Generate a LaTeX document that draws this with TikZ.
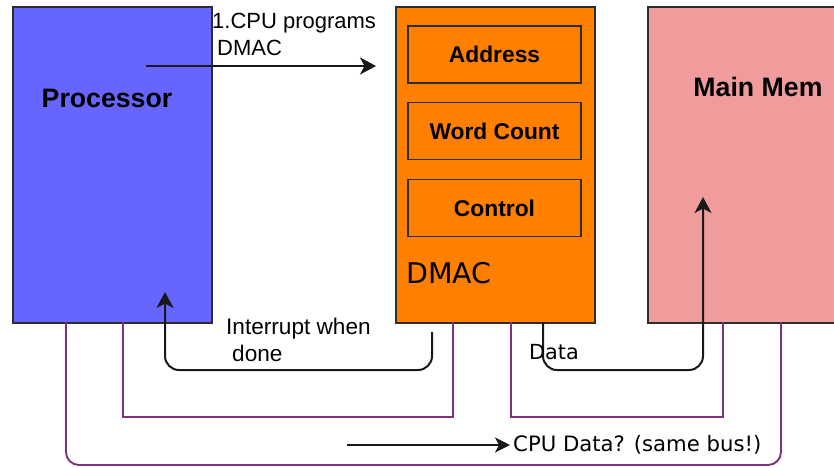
\documentclass[tikz,border=0pt]{standalone}
\usepackage{fontspec}
\setmainfont{Liberation Sans}
\newfontfamily\dv{DejaVu Sans}
\usetikzlibrary{arrows.meta}
\definecolor{procblue}{RGB}{102,102,255}
\definecolor{dmacorange}{RGB}{255,128,0}
\definecolor{mempink}{RGB}{240,156,156}
\definecolor{buspurple}{RGB}{128,48,128}
\definecolor{edgegray}{RGB}{45,45,45}
\tikzset{
  unit/.style={draw=edgegray, line width=1.8pt, inner sep=0pt, anchor=north west},
  reg/.style={draw=edgegray, line width=1.8pt, inner sep=0pt, minimum width=173pt, minimum height=57pt, font=\fontsize{22.8}{27}\selectfont\bfseries},
  conn/.style={line width=2pt, draw=black!90, -{Stealth[length=16pt,width=17pt,inset=4.5pt]}},
  bus/.style={line width=1.9pt, draw=buspurple},
  lbl/.style={inner sep=0pt, anchor=base west}
}
\begin{document}
\begin{tikzpicture}[x=1pt,y=-1pt]
\useasboundingbox (0,0) rectangle (834,467);
\clip (0,0) rectangle (834,467);
\fill[white] (0,0) rectangle (834,467);
% units
\node[unit, fill=procblue, minimum width=199pt, minimum height=316pt] (proc) at (12,6) {};
\node[unit, fill=dmacorange, minimum width=199pt, minimum height=316pt] (dmac) at (395,6) {};
\node[unit, fill=mempink, minimum width=210pt, minimum height=316pt] (mem) at (647,6) {};
\node[font=\fontsize{26.7}{31}\selectfont\bfseries] (proctxt) at (107,98) {Processor};
\node[font=\fontsize{26.7}{31}\selectfont\bfseries] (memtxt) at (758,87) {Main Mem};
% registers
\node[reg] (addr) at (494.5,54.5) {Address};
\node[reg] (wc) at (494.5,131) {Word Count};
\node[reg] (ctrl) at (494.5,208) {Control};
\node[lbl, font=\dv\fontsize{28.5}{33}\selectfont] (dmactxt) at (406,283) {DMAC};
% coordinates
\coordinate (p1) at (146,66);
\coordinate (p2) at (376,66);
\coordinate (i1) at (432,332);
\coordinate (i2) at (165,292);
\coordinate (d1) at (543,322);
\coordinate (d2) at (703,197);
\coordinate (b1) at (123,322);
\coordinate (b2) at (453,322);
\coordinate (b3) at (511,322);
\coordinate (b4) at (723,322);
\coordinate (o1) at (66,322);
\coordinate (o2) at (781,322);
\coordinate (c1) at (347,445);
\coordinate (c2) at (510,445);
% buses
\draw[bus] (b1) -- (123,417) -- (453,417) -- (b2);
\draw[bus] (b3) -- (511,417) -- (723,417) -- (b4);
\draw[bus, rounded corners=13pt] (o1) -- (66,465) -- (781,465) -- (o2);
% connectors
\draw[conn] (p1) -- (p2);
\draw[conn, rounded corners=14pt] (i1) -- (432,370) -- (165,370) -- (i2);
\draw[conn, rounded corners=14pt] (d1) -- (543,370) -- (703,370) -- (d2);
\draw[conn, line width=1.7pt, -{Stealth[length=15pt,width=15pt,inset=4pt]}] (c1) -- (c2);
% labels
\node[lbl, font=\fontsize{22}{26}\selectfont] (t1) at (212,28) {1.CPU programs};
\node[lbl, font=\fontsize{22}{26}\selectfont] (t2) at (217,55) {DMAC};
\node[lbl, font=\fontsize{22.6}{26}\selectfont] (t3) at (226,334) {Interrupt when};
\node[lbl, font=\fontsize{22.6}{26}\selectfont] (t4) at (232,361) {done};
\node[lbl, font=\dv\fontsize{20.8}{24}\selectfont] (t5) at (529,359) {Data};
\node[lbl, font=\dv\fontsize{21.2}{25}\selectfont] (t6) at (513,451) {CPU Data? (same bus!)};
\end{tikzpicture}
\end{document}
